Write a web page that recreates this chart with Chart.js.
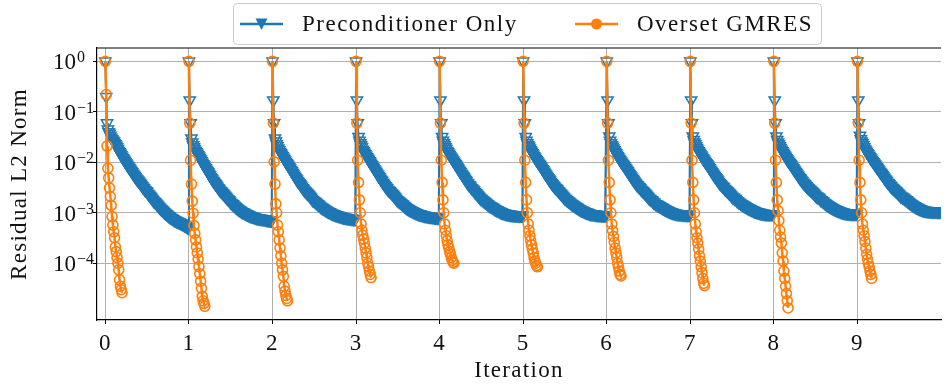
<!DOCTYPE html>
<html>
<head>
<meta charset="utf-8">
<title>Residual history</title>
<script src="https://cdn.jsdelivr.net/npm/chart.js@4.4.1/dist/chart.umd.min.js"></script>
<style>
  html, body { margin: 0; padding: 0; background: #fff; }
  #chart { display: block; }
</style>
</head>
<body>
<canvas id="chart" width="949" height="388"></canvas>
<script>
// Residual per inner iteration, one array per outer iteration (100 inner steps each)
const precondOnly = [
    [1, .2, .06, .045, .04, .037, .034, .031, .029, .0275,
     .026, .0245, .023, .0215, .02, .0185, .017, .016, .015, .014,
     .013, .0122, .0115, .0108, .0102, .0096, .009, .0085, .008, .0076,
     .0072, .0068, .0064, .006, .0057, .0054, .0051, .0048, .0046, .0044,
     .0042, .004, .0038, .0036, .0034, .0032, .0031, .0029, .0028, .0027,
     .0026, .0024, .0023, .0022, .0021, .002, .0019, .0018, .0017, .00165,
     .0016, .00152, .00145, .00139, .00133, .00127, .00122, .00117, .00113, .00109,
     .00105, .00101, .00098, .00094, .00091, .00088, .00086, .00083, .00081, .00079,
     .00077, .00075, .00073, .00071, .0007, .00068, .00067, .00066, .00065, .00064,
     .00063, .00061, .0006, .00059, .00058, .00056, .00055, .00054, .00052, .0005],
    [1, .17, .06, .03, .025, .022, .02, .0185, .017, .016,
     .015, .014, .0132, .0123, .0115, .0107, .0099, .0093, .0087, .0082,
     .0077, .0072, .0068, .0064, .006, .0056, .0052, .0049, .0046, .0043,
     .0041, .0039, .0037, .0035, .0033, .0031, .003, .0028, .0027, .0026,
     .0025, .0024, .0023, .0022, .0021, .002, .0019, .00185, .0018, .0017,
     .0016, .00155, .0015, .00145, .0014, .00135, .0013, .00126, .00122, .00118,
     .00115, .00112, .00109, .00106, .00104, .00102, .001, .00098, .00096, .00094,
     .00092, .0009, .00089, .00087, .00086, .00085, .00084, .00083, .00082, .00081,
     .0008, .00079, .00078, .00078, .00077, .00077, .00076, .00076, .00075, .00075,
     .00074, .00074, .00073, .00073, .00072, .00072, .00071, .00071, .0007, .0007],
    [1, .17, .06, .03, .026, .023, .021, .019, .0175, .0162,
     .0152, .0142, .0133, .0125, .0117, .011, .0103, .0097, .0091, .0086,
     .0081, .0076, .0071, .0067, .0063, .0059, .0055, .0052, .0049, .0046,
     .0043, .0041, .0039, .0037, .0035, .0033, .0031, .003, .0028, .0027,
     .0026, .0025, .0024, .0023, .0022, .0021, .002, .0019, .0018, .00175,
     .0017, .00165, .0016, .00155, .0015, .00145, .0014, .00135, .0013, .00127,
     .00124, .00121, .00118, .00115, .00112, .0011, .00107, .00105, .00103, .00101,
     .00099, .00097, .00096, .00094, .00093, .00091, .0009, .00089, .00088, .00087,
     .00086, .00085, .00084, .00083, .00082, .00081, .00081, .0008, .0008, .00079,
     .00079, .00078, .00078, .00077, .00077, .00076, .00076, .00075, .00075, .00075],
    [1, .17, .06, .032, .027, .024, .022, .02, .018, .0167,
     .0156, .0146, .0137, .0128, .012, .0113, .0106, .01, .0094, .0088,
     .0083, .0078, .0073, .0069, .0065, .0061, .0057, .0054, .0051, .0048,
     .0045, .0043, .004, .0038, .0036, .0034, .0032, .0031, .0029, .0028,
     .0027, .0026, .0025, .0024, .0023, .0022, .0021, .002, .0019, .0018,
     .00175, .0017, .00165, .0016, .00155, .0015, .00145, .0014, .00135, .0013,
     .00126, .00123, .0012, .00117, .00115, .00112, .0011, .00108, .00106, .00104,
     .00102, .001, .00099, .00097, .00096, .00094, .00093, .00092, .00091, .0009,
     .00089, .00088, .00087, .00087, .00086, .00085, .00085, .00084, .00084, .00083,
     .00083, .00082, .00082, .00082, .00081, .00081, .00081, .0008, .0008, .0008],
    [1, .17, .06, .032, .027, .024, .022, .02, .0185, .017,
     .016, .015, .0141, .0132, .0124, .0117, .011, .0104, .0098, .0092,
     .0087, .0082, .0077, .0072, .0068, .0064, .006, .0057, .0054, .0051,
     .0048, .0045, .0043, .004, .0038, .0036, .0035, .0033, .0031, .003,
     .0029, .0028, .0026, .0025, .0024, .0023, .0022, .0021, .002, .0019,
     .0019, .0018, .00175, .0017, .00165, .0016, .00155, .0015, .00145, .0014,
     .00137, .00134, .00131, .00128, .00125, .00122, .00119, .00116, .00114, .00112,
     .0011, .00108, .00106, .00104, .00102, .001, .00099, .00098, .00097, .00096,
     .00095, .00094, .00093, .00092, .00092, .00091, .00091, .0009, .0009, .0009,
     .00089, .00089, .00089, .00089, .00088, .00088, .00088, .00088, .00088, .00088],
    [1, .17, .06, .032, .027, .024, .022, .0205, .019, .0175,
     .0163, .0152, .0143, .0134, .0126, .0118, .0111, .0105, .0099, .0094,
     .0089, .0084, .0079, .0074, .007, .0066, .0062, .0058, .0055, .0052,
     .0049, .0046, .0044, .0041, .0039, .0037, .0035, .0034, .0032, .0031,
     .003, .0029, .0027, .0026, .0025, .0024, .0023, .0022, .0021, .002,
     .0019, .0019, .0018, .00175, .0017, .00165, .0016, .00155, .0015, .00146,
     .00142, .00138, .00135, .00132, .00128, .00125, .00122, .00119, .00117, .00114,
     .00112, .0011, .00108, .00106, .00104, .00102, .00101, .001, .00098, .00097,
     .00096, .00095, .00094, .00094, .00093, .00093, .00092, .00092, .00091, .00091,
     .0009, .0009, .0009, .0009, .00089, .00089, .00089, .00089, .00089, .00089],
    [1, .17, .06, .033, .027, .024, .022, .0205, .019, .0175,
     .0163, .0152, .0143, .0134, .0126, .0118, .0111, .0105, .0099, .0094,
     .0089, .0084, .0079, .0075, .0071, .0067, .0063, .0059, .0056, .0053,
     .005, .0047, .0045, .0042, .004, .0038, .0036, .0035, .0033, .0032,
     .0031, .0029, .0028, .0027, .0026, .0025, .0024, .0023, .0022, .0021,
     .002, .0019, .0019, .0018, .0018, .0017, .0016, .0016, .0015, .0015,
     .00146, .00142, .00139, .00136, .00133, .0013, .00127, .00124, .00121, .00119,
     .00116, .00114, .00112, .0011, .00108, .00106, .00104, .00103, .00101, .001,
     .00099, .00098, .00097, .00096, .00096, .00095, .00094, .00094, .00093, .00093,
     .00093, .00092, .00092, .00092, .00092, .00091, .00091, .00091, .00091, .00091],
    [1, .17, .06, .033, .028, .025, .023, .021, .0195, .018,
     .0168, .0157, .0147, .0138, .013, .0122, .0115, .0108, .0102, .0097,
     .0092, .0087, .0082, .0077, .0072, .0068, .0064, .0061, .0057, .0054,
     .0051, .0049, .0046, .0044, .0041, .0039, .0037, .0036, .0034, .0033,
     .0032, .003, .0029, .0028, .0027, .0026, .0025, .0024, .0023, .0022,
     .0021, .002, .002, .0019, .0019, .0018, .0017, .0017, .0016, .0016,
     .00153, .00149, .00146, .00142, .00139, .00136, .00133, .0013, .00127, .00124,
     .00122, .0012, .00117, .00115, .00113, .00111, .00109, .00107, .00106, .00104,
     .00103, .00102, .00101, .001, .00099, .00098, .00097, .00097, .00096, .00096,
     .00095, .00095, .00095, .00095, .00094, .00094, .00094, .00094, .00094, .00094],
    [1, .17, .06, .033, .028, .025, .023, .021, .0195, .018,
     .0168, .0157, .0147, .0138, .013, .0122, .0115, .0108, .0102, .0097,
     .0092, .0087, .0082, .0077, .0073, .0069, .0065, .0062, .0058, .0055,
     .0052, .0049, .0047, .0044, .0042, .004, .0038, .0037, .0035, .0034,
     .0032, .0031, .003, .0029, .0028, .0027, .0026, .0025, .0024, .0023,
     .0022, .0021, .0021, .002, .002, .0019, .0018, .0018, .0017, .0017,
     .0016, .00156, .00151, .00147, .00143, .00139, .00136, .00133, .0013, .00127,
     .00124, .00121, .00119, .00117, .00115, .00113, .00111, .00109, .00108, .00106,
     .00105, .00103, .00102, .00101, .001, .00099, .00099, .00098, .00098, .00097,
     .00097, .00097, .00096, .00096, .00096, .00096, .00096, .00096, .00096, .00096],
    [1, .17, .06, .034, .029, .026, .024, .022, .02, .0186,
     .0174, .0163, .0153, .0144, .0135, .0127, .012, .0113, .0107, .0101,
     .0096, .0091, .0086, .0081, .0077, .0073, .0069, .0065, .0062, .0059,
     .0056, .0053, .005, .0047, .0045, .0043, .004, .0039, .0037, .0035,
     .0034, .0032, .0031, .003, .0029, .0028, .0027, .0026, .0025, .0024,
     .0023, .0022, .0021, .0021, .002, .002, .0019, .0019, .0018, .0018,
     .0017, .00165, .0016, .00155, .00151, .00147, .00143, .00139, .00136, .00133,
     .0013, .00127, .00125, .00123, .0012, .00118, .00117, .00115, .00113, .00112,
     .00111, .0011, .00109, .00109, .00108, .00108, .00107, .00107, .00107, .00106,
     .00106, .00106, .00106, .00106, .00106, .00106, .00105, .00105, .00105, .00105]
];

const oversetGmres = [
    [1, .22, .021, .0076, .0049, .0031, .0021, .0014, .00084, .00057, .00042, .00032, .00021, .00017, .00013, .0001, .000074, .000047, .000035, .00003, .000026],
    [1, .06, .011, .0037, .0017, .00098, .00056, .00039, .00029, .00021, .00016, .00012, .000086, .000062, .000044, .000032, .000022, .000018, .000016, .000014],
    [1, .06, .0102, .0037, .0015, .001, .00057, .00042, .00029, .0002, .00014, .0001, .000074, .000055, .000035, .000028, .000023, .00002, .000018],
    [1, .06, .011, .004, .0018, .001, .0006, .00045, .00036, .0003, .00025, .0002, .00016, .00013, .0001, .000085, .00007, .00006, .000052],
    [1, .06, .011, .004, .0018, .001, .0006, .00045, .00035, .00028, .00023, .0002, .00017, .00015, .00013, .000115, .000105, .0001],
    [1, .06, .011, .004, .0018, .001, .0006, .00045, .00035, .00028, .00023, .00019, .00016, .00013, .00011, .0001, .00009, .000085],
    [1, .06, .011, .004, .0018, .001, .0006, .00044, .00034, .00026, .0002, .00016, .00013, .0001, .000085, .00007, .00006, .000056],
    [1, .06, .011, .004, .0018, .001, .0006, .00042, .00032, .00025, .00019, .00014, .00011, .000085, .000065, .00005, .00004, .000036],
    [1, .06, .011, .004, .0018, .0011, .0007, .00045, .00033, .00025, .00016, .00011, .00007, .00005, .000035, .000025, .000018, .000013],
    [1, .06, .011, .004, .0018, .001, .0006, .00045, .00035, .00027, .0002, .00015, .00012, .0001, .000085, .00007, .00006, .00005]
];

// both solvers log the inner iterations as hundredths of an outer iteration
const innerStep = 0.01;

const xTicks = [0, 1, 2, 3, 4, 5, 6, 7, 8, 9];
const yTicks = [1e-4, 1e-3, 1e-2, 1e-1, 1];
const yExponents = ['\u22124', '\u22123', '\u22122', '\u22121', '0'];

const BLUE = '#1f77b4';
const ORANGE = '#ff7f0e';
const SERIF = '"Liberation Serif", "Times New Roman", serif';

const blueData = [];
precondOnly.forEach((vals, k) => {
    vals.forEach((v, i) => blueData.push({ x: k + i * innerStep, y: v }));
});

// break the line between outer iterations
const orangeData = [];
oversetGmres.forEach((vals, k) => {
    vals.forEach((v, i) => orangeData.push({ x: k + i * innerStep, y: v }));
    orangeData.push({ x: k + 0.5, y: null });
});

// slightly wider letter spacing for the serif labels
const textSpacing = {
    id: 'textSpacing',
    beforeDraw(chart) { chart.ctx.letterSpacing = '1.3px'; },
    afterDraw(chart) { chart.ctx.letterSpacing = '0px'; }
};

// y tick labels as 10 with a raised exponent
const logLabels = {
    id: 'logLabels',
    afterDraw(chart) {
        const ctx = chart.ctx;
        const scale = chart.scales.y;
        ctx.save();
        ctx.letterSpacing = '0px';
        ctx.fillStyle = '#111';
        ctx.textBaseline = 'alphabetic';
        ctx.textAlign = 'left';
        yTicks.forEach((v, i) => {
            const y = scale.getPixelForValue(v);
            ctx.font = '23px ' + SERIF;
            ctx.fillText('10', 53, y + 8);
            const w = ctx.measureText('10').width;
            ctx.font = '16px ' + SERIF;
            ctx.fillText(yExponents[i], 53 + w + 1, y + 1);
        });
        ctx.restore();
    }
};

// top spine and the legend box above the axes
const frameAndLegend = {
    id: 'frameAndLegend',
    afterDraw(chart) {
        const ctx = chart.ctx;
        const area = chart.chartArea;
        ctx.save();
        ctx.strokeStyle = '#000';
        ctx.lineWidth = 1.2;
        ctx.beginPath();
        ctx.moveTo(area.left, area.top);
        ctx.lineTo(area.right, area.top);
        ctx.stroke();

        ctx.beginPath();
        ctx.roundRect(233.5, 3.5, 588, 41, 4);
        ctx.fillStyle = 'rgba(255,255,255,0.8)';
        ctx.fill();
        ctx.strokeStyle = '#cccccc';
        ctx.lineWidth = 1;
        ctx.stroke();

        const ly = 24;
        // Preconditioner Only
        ctx.strokeStyle = BLUE;
        ctx.lineWidth = 2.5;
        ctx.beginPath();
        ctx.moveTo(240, ly);
        ctx.lineTo(283, ly);
        ctx.stroke();
        ctx.fillStyle = BLUE;
        ctx.beginPath();
        ctx.moveTo(261.5 - 6, ly - 5.5);
        ctx.lineTo(261.5 + 6, ly - 5.5);
        ctx.lineTo(261.5, ly + 6);
        ctx.closePath();
        ctx.fill();

        // Overset GMRES
        ctx.strokeStyle = ORANGE;
        ctx.beginPath();
        ctx.moveTo(575, ly);
        ctx.lineTo(618, ly);
        ctx.stroke();
        ctx.fillStyle = ORANGE;
        ctx.beginPath();
        ctx.arc(596.5, ly, 5.5, 0, Math.PI * 2);
        ctx.fill();

        ctx.fillStyle = '#111';
        ctx.font = '23px ' + SERIF;
        ctx.letterSpacing = '1.5px';
        ctx.textBaseline = 'alphabetic';
        ctx.fillText('Preconditioner Only', 302, 31);
        ctx.fillText('Overset GMRES', 637, 31);
        ctx.restore();
    }
};

const gridOpts = {
    color: '#b0b0b0',
    lineWidth: 1,
    tickColor: '#000',
    tickLength: 4,
    drawTicks: true
};

new Chart(document.getElementById('chart').getContext('2d'), {
    type: 'line',
    data: {
        datasets: [
            {
                label: 'Overset GMRES',
                data: orangeData,
                order: 1,
                borderColor: ORANGE,
                borderWidth: 2.5,
                pointStyle: 'circle',
                pointRadius: 5,
                pointBorderWidth: 1.6,
                pointBorderColor: ORANGE,
                pointBackgroundColor: 'rgba(0,0,0,0)',
                spanGaps: false
            },
            {
                label: 'Preconditioner Only',
                data: blueData,
                order: 2,
                borderColor: BLUE,
                borderWidth: 2,
                pointStyle: 'triangle',
                rotation: 180,
                pointRadius: 6.5,
                pointBorderWidth: 1.5,
                pointBorderColor: BLUE,
                pointBackgroundColor: 'rgba(0,0,0,0)'
            }
        ]
    },
    options: {
        responsive: false,
        animation: false,
        devicePixelRatio: 1,
        events: [],
        layout: { padding: { top: 48, left: 0, right: 0, bottom: 0 } },
        plugins: {
            legend: { display: false },
            tooltip: { enabled: false }
        },
        scales: {
            x: {
                type: 'linear',
                min: -0.1,
                max: 10,
                afterBuildTicks: scale => { scale.ticks = xTicks.map(v => ({ value: v })); },
                afterFit: scale => { scale.height = 68; },
                grid: gridOpts,
                border: { color: '#000', width: 1.2 },
                ticks: {
                    font: { family: SERIF, size: 23 },
                    color: '#111',
                    padding: 6,
                    maxRotation: 0,
                    autoSkip: false
                },
                title: {
                    display: true,
                    text: 'Iteration',
                    font: { family: SERIF, size: 23 },
                    color: '#111',
                    padding: { top: 0, bottom: 3 }
                }
            },
            y: {
                type: 'logarithmic',
                min: 7.5e-6,
                max: 1.84,
                afterBuildTicks: scale => { scale.ticks = yTicks.map(v => ({ value: v })); },
                afterFit: scale => { scale.width = 97; },
                grid: gridOpts,
                border: { color: '#000', width: 1.2 },
                ticks: { display: false },
                title: {
                    display: true,
                    text: 'Residual L2 Norm',
                    font: { family: SERIF, size: 23 },
                    color: '#111',
                    padding: { top: 6, bottom: 0 }
                }
            }
        }
    },
    plugins: [textSpacing, logLabels, frameAndLegend]
});
</script>
</body>
</html>
